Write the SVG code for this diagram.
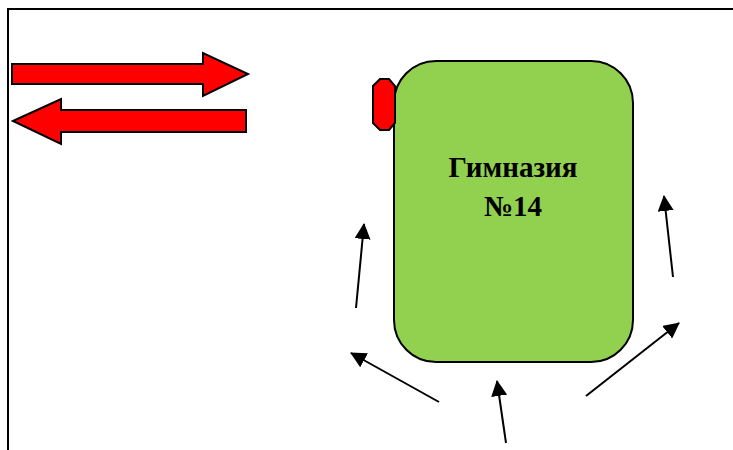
<svg xmlns="http://www.w3.org/2000/svg" width="733" height="450" viewBox="0 0 733 450">
<style>
.frame{fill:none;stroke:#000;stroke-width:2}
.red{fill:#ff0000;stroke:#000;stroke-width:2;stroke-linejoin:miter}
.bld{fill:#92d050;stroke:#000;stroke-width:2}
.lbl{font-family:"Liberation Serif",serif;font-weight:bold;font-size:29px;fill:#000;text-anchor:middle}
.con{fill:none;stroke:#000;stroke-width:2;marker-end:url(#ah)}
</style>
<defs>
<marker id="ah" viewBox="0 0 16 16" refX="15" refY="8" markerWidth="16" markerHeight="16" markerUnits="userSpaceOnUse" orient="auto">
<path d="M0,0 L16,8 L0,16 Z" fill="#000"/>
</marker>
</defs>
<rect width="733" height="450" fill="#fff"/>
<path class="frame" d="M8,450 V9 H733"/>
<g id="arrow-right">
<polygon class="red" points="12,64 203,64 203,53 248,74 203,96 203,84 12,84"/>
</g>
<g id="arrow-left">
<polygon class="red" points="13,121 61,99 61,110 246,110 246,132 61,132 61,144"/>
</g>
<g id="school">
<rect class="bld" x="394" y="61" width="239" height="301" rx="42" ry="42"/>
<text class="lbl" x="513" y="177">Гимназия</text>
<text class="lbl" x="513" y="216">№14</text>
</g>
<g id="entrance">
<polygon class="red" points="380,79 389,79 395,86 395,123 389,130 380,130 373,123 373,86"/>
</g>
<g id="connectors">
<line class="con" x1="356" y1="308" x2="364" y2="224"/>
<line class="con" x1="439" y1="402" x2="351" y2="353"/>
<line class="con" x1="506" y1="443" x2="497" y2="381"/>
<line class="con" x1="586" y1="396" x2="679" y2="323"/>
<line class="con" x1="673" y1="277" x2="664" y2="196"/>
</g>
</svg>
